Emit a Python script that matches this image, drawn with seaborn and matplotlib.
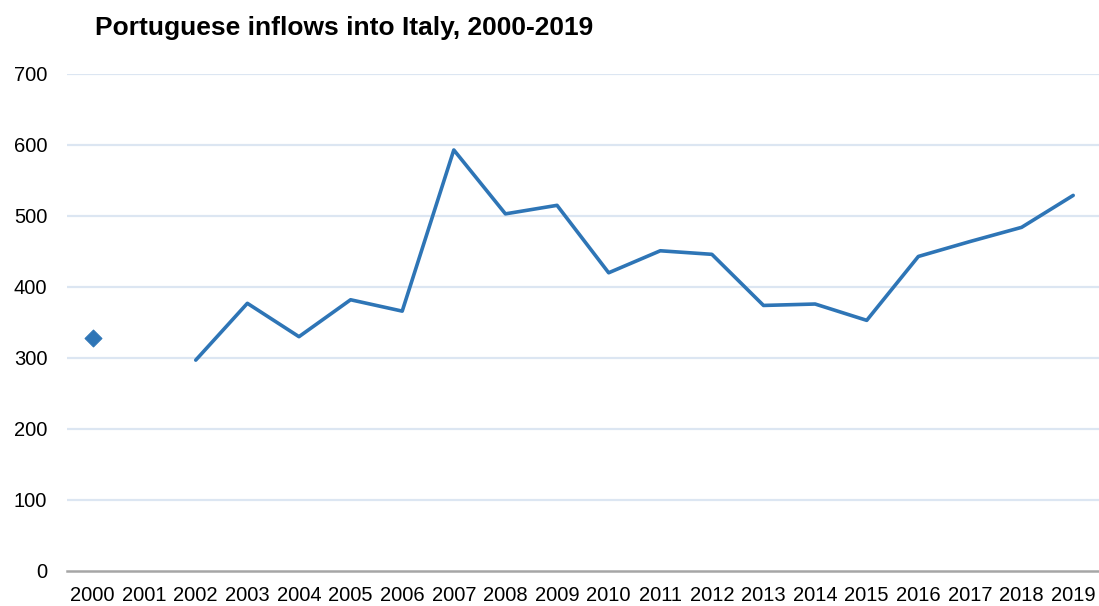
import numpy as np
import pandas as pd
import matplotlib
matplotlib.use('Agg')
import matplotlib.pyplot as plt
import seaborn as sns

# values (2001 has no data)
years = list(range(2000, 2020))
inflows = [328, np.nan, 297, 377, 330, 382, 366, 593, 503, 515,
           420, 451, 446, 374, 376, 353, 443, 464, 484, 529]
y_ticks = [0, 100, 200, 300, 400, 500, 600, 700]
title = 'Portuguese inflows into Italy, 2000-2019'

line_color = '#2E75B6'
grid_color = '#DCE6F2'

sns.set_theme(style='white')
plt.rcParams['font.family'] = ['Liberation Sans', 'DejaVu Sans']
plt.rcParams['text.color'] = 'black'

df = pd.DataFrame({'year': years, 'value': inflows})
# split into the connected run and isolated points
has_prev = df['value'].shift(1).notna()
has_next = df['value'].shift(-1).notna()
df['isolated'] = df['value'].notna() & ~has_prev & ~has_next
line_df = df[df['value'].notna() & ~df['isolated']]
point_df = df[df['isolated']]

fig = plt.figure(figsize=(10.99, 6.06), dpi=100)
ax = fig.add_axes([0.0607, 0.0578, 0.9393, 0.8201])

for v in y_ticks[1:]:
    ax.axhline(v, color=grid_color, lw=1.6, zorder=0)

sns.lineplot(data=line_df, x='year', y='value', color=line_color,
             lw=2.6, ax=ax, zorder=3)
sns.scatterplot(data=point_df, x='year', y='value', color=line_color,
                marker='D', s=75, edgecolor=line_color, ax=ax, zorder=3)

ax.set_xlim(1999.5, 2019.5)
ax.set_ylim(0, 700)
ax.set_xticks(years)
ax.set_xticklabels([str(y) for y in years], fontsize=14.5)
ax.set_yticks(y_ticks)
ax.set_yticklabels([str(v) for v in y_ticks], fontsize=14.5)
ax.tick_params(axis='both', length=0, colors='black', labelcolor='black')
ax.tick_params(axis='y', pad=14)
ax.tick_params(axis='x', pad=11)
ax.set_xlabel('')
ax.set_ylabel('')

for side in ['top', 'right', 'left']:
    ax.spines[side].set_visible(False)
ax.spines['bottom'].set_color('#A6A6A6')
ax.spines['bottom'].set_linewidth(1.8)

fig.text(0.0865, 0.953, title, fontsize=19, fontweight='bold',
         color='black', ha='left', va='center')

fig.savefig('out.png', dpi=100)
